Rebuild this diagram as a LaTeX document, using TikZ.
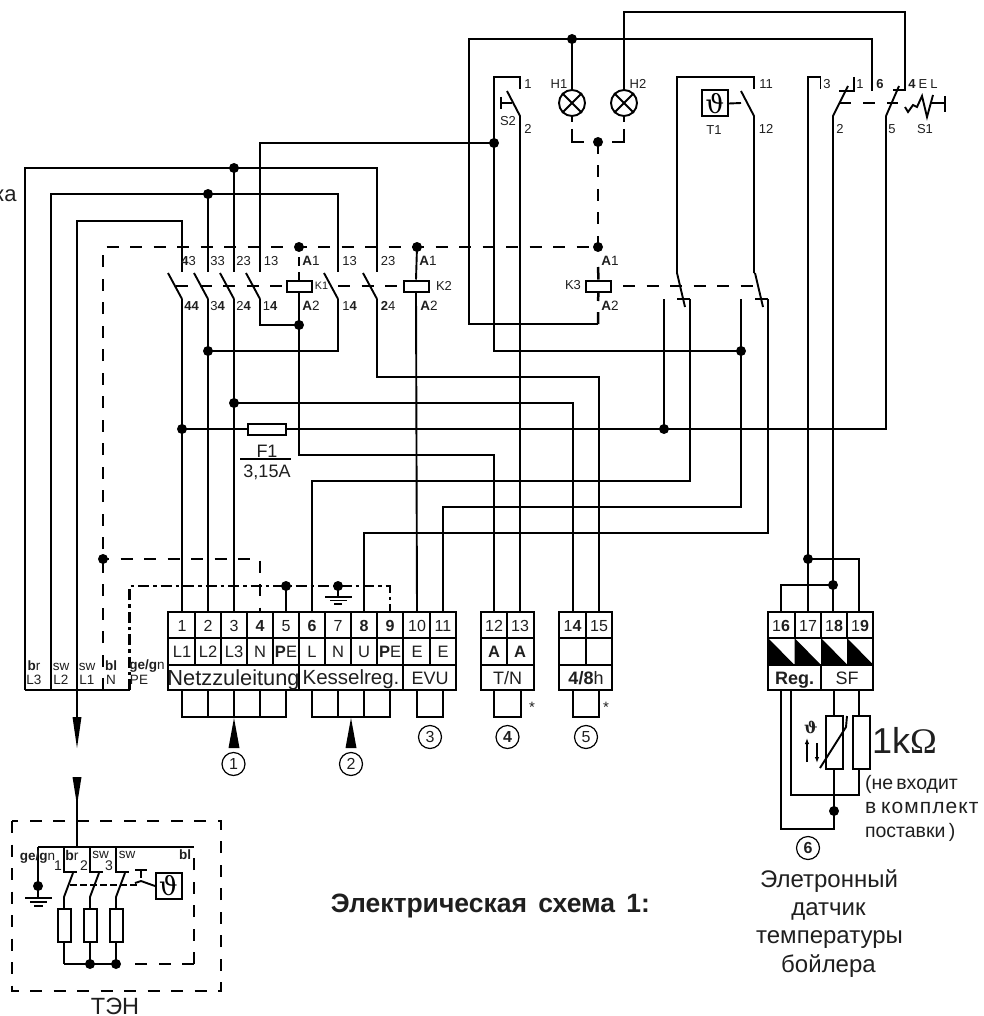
\documentclass[tikz,border=0pt]{standalone}
\usetikzlibrary{arrows.meta}
\usepackage{fontspec}
\setmainfont{Liberation Sans}
\newfontfamily\serifx{Liberation Serif}
\newfontfamily\dejav{DejaVu Serif}
\newcounter{lc}
\newcommand{\bx}[1]{{\bfseries #1}}
\newcommand{\fs}[1]{\fontsize{#1}{#1}\selectfont}
\newcommand{\lb}[4][13]{\stepcounter{lc}\node[lab,font=\fs{#1}] (lab\thelc) at (#2,#3) {#4};}
\newcommand{\lbb}[4][13]{\stepcounter{lc}\node[lab,font=\fs{#1},anchor=base] (lab\thelc) at (#2,#3) {#4};}
\newcommand{\lbw}[4][13]{\stepcounter{lc}\node[lab,font=\fs{#1},anchor=base west] (lab\thelc) at (#2,#3) {#4};}
\newcommand{\cn}[4]{\node[circ] (c#3) at (#1,#2) {\fs{16}#4};}
\tikzset{
 wire/.style={line width=1.9pt,line join=miter},
 frame/.style={line width=2pt,line join=miter},
 dsh/.style={line width=2.8pt,dash pattern=on 12pt off 11.5pt},
 dshdot/.style={line width=2.5pt,dash pattern=on 11pt off 4pt on 3.5pt off 4pt},
 stub/.style={line width=2.5pt},
 dot/.style={circle,fill=black,inner sep=0pt,minimum size=10pt},
 lab/.style={inner sep=0pt,outer sep=0pt,text=black!88},
 circ/.style={circle,draw,line width=1.2pt,minimum size=23pt,inner sep=0pt,text=black!88},
 coil/.style={draw,fill=white,line width=2pt,minimum width=25pt,minimum height=11pt,inner sep=0pt},
 res/.style={draw,fill=white,line width=2pt,inner sep=0pt},
}
\begin{document}
\begin{tikzpicture}[x=1pt,y=-1pt]
\useasboundingbox (0,0) rectangle (983,1016);
\fill[white] (0,0) rectangle (983,1016);
% terminal anchors
\foreach \n/\x in {1/182,2/208,3/234,4/260,5/286,6/312,7/338,8/364,9/390,10/417,11/443,12/494,13/520,14/573,15/599,16/781,17/808,18/833,19/859}
  \coordinate (t\n) at (\x,612);
% junctions
\coordinate (jL3) at (234,168);
\coordinate (jL2) at (208,194);
\coordinate (jA) at (299,325);
\coordinate (jB) at (208,351);
\coordinate (jC) at (234,403);
\coordinate (jD) at (182,429);
\coordinate (jE) at (664,429);
\coordinate (jF) at (741,351);
\coordinate (jG) at (494,143);
\coordinate (jH) at (572,39);
\coordinate (jK1) at (299,247);
\coordinate (jK2) at (417,247);
\coordinate (jK3) at (598,247);
\coordinate (jLamp) at (598,142);
\coordinate (jN) at (103,559);
\coordinate (jPE) at (286,586);
\coordinate (jGnd) at (338,586);
\coordinate (jS1) at (808,559);
\coordinate (jS2) at (833,585);
\coordinate (jS3) at (834,811);
% coils, fuse, lamps
\node[coil] (K1) at (299,286) {};
\node[coil] (K2) at (416,286) {};
\node[coil] (K3) at (598.5,286) {};
\node[res,minimum width=38pt,minimum height=11pt] (F1) at (266.5,429) {};
\node[circle,draw,line width=1.9pt,minimum size=26pt,inner sep=0pt] (H1) at (572,103) {};
\node[circle,draw,line width=1.9pt,minimum size=26pt,inner sep=0pt] (H2) at (624,103) {};
\foreach \h in {H1,H2}{
 \draw[wire] (\h.north west)--(\h.south east) (\h.north east)--(\h.south west);
}
% left loops
\draw[wire] (25,690)--(25,168)--(377,168)--(377,272);
\draw[wire] (jL3)--(234,272);
\draw[wire] (51,690)--(51,194)--(338,194)--(338,272);
\draw[wire] (jL2)--(208,272);
\draw[wire] (77,690)--(77,221)--(182,221)--(182,272);
\draw[wire] (260,272)--(260,143)--(jG);
\draw[wire] (25,690)--(130,690);
% contact levers K1/K2
\foreach \x in {182,208,234,260,338,377}
  \draw[wire] (\x-14,273)--(\x,299);
% lower wires
\draw[wire] (182,299)--(t1);
\draw[wire] (208,299)--(t2);
\draw[wire] (234,299)--(t3);
\draw[wire] (260,299)--(260,325)--(jA);
\draw[wire] (K1.south)--(jA)--(299,455)--(494,455)--(t12);
\draw[wire] (338,299)--(338,351)--(jB);
\draw[wire] (377,299)--(377,377)--(599,377)--(t15);
\draw[wire] (jC)--(573,403)--(t14);
\draw[wire] (jD)--(F1.west);
\draw[wire] (F1.east)--(886,429)--(886,116);
\draw[wire] (jK2)--(K2.north);
\draw[wire] (K2.south)--(t10);
\draw[wire] (t6)--(312,481)--(690,481)--(690,299);
\draw[wire] (t11)--(443,507)--(741,507)--(741,299);
\draw[wire] (t8)--(364,533)--(768,533)--(768,299);
\draw[wire] (jE)--(664,299);
\draw[wire] (jG)--(494,351)--(jF);
\draw[wire] (494,143)--(494,77)--(520,77)--(520,89);
\draw[wire] (507,91)--(520,116)--(t13);
\draw[wire] (501,97)--(501,109) (501,103)--(512,103);
% top loops
\draw[wire] (598,324)--(469,324)--(469,39)--(872,39)--(872,91);
\draw[wire] (jH)--(H1.north);
\draw[wire] (H2.north)--(624,12)--(905,12)--(905,90)--(893,90);
\draw[wire] (899,86)--(886,116);
% T1 contact
\draw[wire] (677,273)--(677,77)--(754,77)--(754,89);
\draw[wire] (741,91)--(754,116)--(754,273);
\draw[wire] (677,273)--(685,307);
\draw[wire] (755,273)--(763,307);
\draw[wire] (677,299)--(690,299) (755,299)--(768,299);
\node[res,minimum width=26pt,minimum height=26pt] (T1) at (715,103.5) {\dejav\fs{26}ϑ};
\draw[wire] (T1.east)--(741,103);
% right-hand contacts
\draw[wire] (t17)--(808,77)--(820.5,77)--(820.5,89);
\draw[wire] (t18)--(833,116)--(848,86);
\draw[wire] (854,77)--(854,91)--(839,91);
\draw[wire] (jS1)--(859,559)--(t19);
\draw[wire] (jS2)--(781,585)--(t16);
% S1
\draw[wire] (905,107)--(908,112)--(913,105)--(917,107)--(922,96)--(927,117)--(933,95);
\draw[wire] (931,103)--(945,103) (945,96)--(945,112);
% dashed lines
\draw[dsh] (103,690)--(103,247)--(jK3);
\draw[dsh,dash phase=6pt] (jN)--(260,559)--(260,612);
\draw[stub] (299,257)--(299,266) (299,272)--(K1.north);
\draw[dsh] (176,286)--(K1.west);
\draw[dsh] (338,286)--(K2.west);
\draw[dsh] (623,286)--(756,286);
\draw[stub] (839,103)--(851,103) (863,103)--(875,103) (887,103)--(898,103);
\draw[stub] (H1.south)--(572,122) (572,129)--(572,142)--(584,142);
\draw[stub] (H2.south)--(624,122) (624,129)--(624,142)--(612,142);
\draw[dsh] (jLamp)--(jK3);
\draw[stub] (598,267)--(K3.north);
\draw[stub] (K3.south)--(598,301) (598,312)--(598,324);
% dash-dot PE
\draw[dshdot] (129.5,690)--(129.5,586)--(390,586)--(t9);
\draw[wire] (jPE)--(t5);
\draw[wire] (jGnd)--(338,597);
\draw[wire] (325,597)--(352,597) (330,600.5)--(347,600.5) (334,604)--(342,604);
% junction dots
\foreach \j in {jL3,jL2,jA,jB,jC,jD,jE,jF,jG,jH,jK1,jK2,jK3,jLamp,jN,jPE,jGnd,jS1,jS2,jS3}
  \node[dot] at (\j) {};
% terminals main block
\draw[frame] (168,612) rectangle (456,690);
\draw[frame] (168,638)--(456,638) (168,665)--(456,665);
\foreach \x in {195,221,247,273,299,325,351,377,403,430}
 \draw[frame] (\x,612)--(\x,665);
\draw[frame] (299,665)--(299,690) (403,665)--(403,690);
\foreach \x in {182,208,234,260}
 \draw[frame] (\x,690)--(\x,717)--(\x+26,717)--(\x+26,690);
\foreach \x in {312,338,364}
 \draw[frame] (\x,690)--(\x,717)--(\x+26,717)--(\x+26,690);
\draw[frame] (417,690)--(417,717)--(443,717)--(443,690);
% 12-13
\draw[frame] (481,612) rectangle (534,690) (481,638)--(534,638) (481,665)--(534,665) (507,612)--(507,665);
\draw[frame] (494,690)--(494,717)--(521,717)--(521,690);
% 14-15
\draw[frame] (559,612) rectangle (612,690) (559,638)--(612,638) (559,665)--(612,665) (586,612)--(586,665);
\draw[frame] (573,690)--(573,717)--(599,717)--(599,690);
% 16-19
\foreach \x in {768,794.5,821,847}
  \fill (\x,638)--(\x,665)--(\x+26.5,665)--cycle;
\draw[frame] (768,612) rectangle (873,690) (768,638)--(873,638) (768,665)--(873,665) (821,665)--(821,690);
\foreach \x in {795,821,847}
  \draw[frame] (\x,612)--(\x,638);
% sensor
\draw[wire] (781,690)--(781,829)--(834,829)--(834,769);
\draw[wire] (791,690)--(791,795)--(859,795)--(859,769);
\draw[wire] (834,690)--(834,716);
\draw[wire] (859,690)--(859,716);
\node[res,minimum width=17pt,minimum height=53pt] (Rt) at (834.5,742.5) {};
\node[res,minimum width=17pt,minimum height=53pt] (Rf) at (861,742.5) {};
\draw[wire] (820,768)--(846,727)--(847,716);
\draw[-{Latex[length=6pt,width=4.5pt]},line width=1.3pt] (807,762)--(807,738);
\draw[-{Latex[length=6pt,width=4.5pt]},line width=1.3pt] (817,743)--(817,763);
% arrows
\draw[wire] (77,690)--(77,717);
\fill (72.5,717)--(81.5,717)--(77,748)--cycle;
\fill (72.5,777)--(81.5,777)--(77,805)--cycle;
\draw[wire] (77,800)--(77,847);
\fill (234,718)--(228.5,748)--(239.5,748)--cycle;
\fill (351,718)--(345.5,748)--(356.5,748)--cycle;
\cn{233.5}{764}{a}{1}
\cn{351}{764}{b}{2}
\cn{430}{737}{c}{3}
\cn{507.5}{737}{d}{\bx{4}}
\cn{586}{737}{e}{5}
\cn{808}{848}{f}{\bx{6}}
% TEN panel
\draw[dsh] (12,821) rectangle (221,991);
\draw[wire] (38,847)--(194,847);
\draw[wire] (38,847)--(38,897);
\node[dot] (gt) at (38,886) {};
\draw[wire] (25,898)--(52,898) (30,902)--(47,902) (34,906)--(43,906);
\foreach \x/\n in {64/a,90/b,116/c}{
 \draw[wire] (\x,847)--(\x,872)--(\x+13,872);
 \draw[wire] (\x+9,873)--(\x,897)--(\x,909);
 \node[res,minimum width=13pt,minimum height=33pt] (R\n) at (\x+0.5,925.5) {};
 \draw[wire] (\x,942)--(\x,964);
}
\draw[wire] (64,964)--(116,964);
\node[dot] (g1) at (90,964) {};
\node[dot] (g2) at (116,964) {};
\draw[dsh] (194,964)--(194,847);
\draw[dsh] (194,964)--(125,964);
\draw[line width=2.2pt,dash pattern=on 7pt off 3pt] (70,885)--(138,885);
\node[res,minimum width=26pt,minimum height=26pt] (Tt) at (168.5,885.5) {\dejav\fs{26}ϑ};
\draw[wire] (135,870)--(147,870) (141,870)--(141,878);
\draw[wire] (135,883)--(141,881)--(155,886);
% labels
\node[lab,font=\fs{22},anchor=east] (kaL) at (16.5,196) {ка};
\lb{188.5}{261}{\bx{4}3}\lb{217.5}{261}{33}\lb{243.5}{261}{23}\lb{271}{261}{13}
\lb[13.5]{311}{261}{\bx{A}1}\lb{349.5}{261}{13}\lb{388}{261}{23}\lb[13.5]{428}{261}{\bx{A}1}
\lb{191.5}{306}{\bx{44}}\lb{217.5}{306}{3\bx{4}}\lb{243.5}{306}{2\bx{4}}\lb{270}{306}{1\bx{4}}
\lb[13.5]{311}{306}{\bx{A}2}\lb{349.5}{306}{1\bx{4}}\lb{388}{306}{\bx{2}4}\lb[13.5]{429}{306}{\bx{A}2}
\lb[10.8]{321.5}{286}{K1}\lb[13]{444}{286}{K2}\lb[13]{573}{285}{K3}
\lb[13.5]{610}{261}{\bx{A}1}\lb[13.5]{610}{306}{\bx{A}2}
\lb{559}{84}{H1}\lb{638}{84}{H2}\lb{508}{121}{S2}\lb{528}{84}{1}\lb{528}{129}{2}
\lb{766}{84}{11}\lb{766}{129}{12}\lb{714}{130}{T1}
\lb{827}{84}{3}\lb{860}{84}{1}\lb{880}{84}{\bx{6}}\lb{912}{84}{\bx{4}}\lb{923}{84}{E}\lb{934}{84}{L}
\lb{840}{129}{2}\lb{892}{129}{5}\lb{925}{129}{S1}
% fuse label
\lb[18]{267}{451}{F1}\lb[18]{267}{472}{3,15A}
\draw[wire,line width=1.4pt] (240,459)--(291,459);
% terminal numbers
\foreach \x/\t in {182/1,208/2,234/3,260/\bx{4},286/5,312/\bx{6},338/7,364/\bx{8},390/\bx{9},417/10,443/11,494/12,520/13,572.5/1\bx{4},599/15,781/1\bx{6},808/17,834/1\bx{8},860/1\bx{9}}
  \node[lab,font=\fs{16},anchor=base] at (\x,631.5) {\t};
\foreach \x/\t in {182/L1,208/L2,234/L3,260/N,286/\bx{P}E,312/L,338/N,364/U,390/\bx{P}E,417/E,443/E,494/\bx{A},520/\bx{A}}
  \node[lab,font=\fs{16.5},anchor=base] at (\x,657.5) {\t};
\lbb[21.8]{233.5}{685}{Netzzuleitung}
\lbb[20.5]{351}{684}{Kesselreg.}
\lbb[18]{430}{684}{EVU}
\lbb[18]{507.5}{684}{T/N}
\lbb[18]{586}{684}{\bx{4/8}h}
\lbb[18]{794.5}{684}{\bx{Reg.}}
\lbb[18]{847}{684}{SF}
% cable labels
\foreach \x/\a/\b in {34/\bx{b}r/L3,61/sw/L2,87/sw/L1,111/\bx{bl}/N}{
 \node[lab,font=\fs{13.5},anchor=base] at (\x,670) {\a};
 \node[lab,font=\fs{13.5},anchor=base] at (\x,684) {\b};
}
\lbb[13.5]{147}{669}{\bx{ge/g}n}
\lbb[13.5]{139}{684}{PE}
\lb[15]{532}{707}{*}\lb[15]{606}{707}{*}
% sensor labels
\lb[16]{811}{727}{\dejav\bfseries ϑ}
\node[lab,font=\fs{36},anchor=base west] (onek) at (872,753) {1k{\serifx Ω}};
\lbw[19.5]{865}{789}{(не\,входит}
\lbw[21]{865}{813}{в\hspace{5pt}\addfontfeature{LetterSpace=5}комплект}
\lbw[19.5]{865}{837}{поставки\,)}
\lbb[24]{829}{887}{Элетронный}
\lbb[24]{828.5}{915}{датчик}
\lbb[24]{829.5}{943}{температуры}
\lbb[24]{828.5}{972}{бойлера}
\lbb[26.5]{490.5}{912}{\bx{Электрическая\hspace{4pt} схема\hspace{4pt} 1:}}
\lbb[23.5]{115}{1014}{ТЭН}
% TEN labels
\lb[13.5]{37.5}{857}{\bx{ge/g}n}
\lb[14]{58}{866}{1}\lb[14]{72}{855}{\bx{b}r}\lb[14]{84}{866}{2}\lb[13.5]{100.5}{855}{sw}\lb[14]{109}{866}{3}\lb[13.5]{127}{855}{sw}\lb[13.5]{185}{855}{\bx{bl}}
\end{tikzpicture}
\end{document}
